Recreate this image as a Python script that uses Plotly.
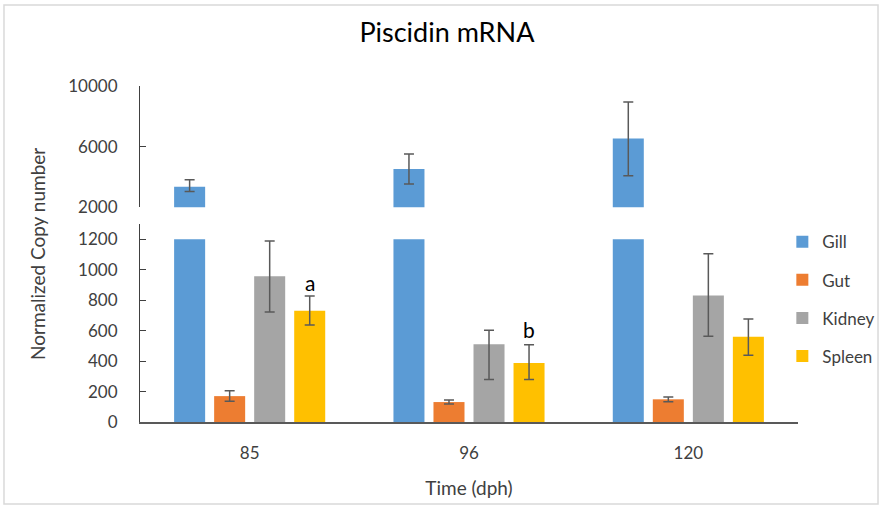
import plotly.graph_objects as go

# ---- data ----
categories = ["85", "96", "120"]
series_names = ["Gill", "Gut", "Kidney", "Spleen"]
gill = [3350, 4520, 6540]
gill_err_plus = [460, 1000, 2410]
gill_err_minus = [300, 990, 2460]
gut = [170, 131, 149]
gut_err_plus = [35, 13, 16]
gut_err_minus = [34, 13, 16]
kidney = [957, 510, 831]
kidney_err_plus = [232, 93, 275]
kidney_err_minus = [234, 230, 267]
spleen = [730, 387, 560]
spleen_err_plus = [98, 120, 117]
spleen_err_minus = [92, 107, 121]
sig_labels = ["a", "b"]
sig_label_cat_index = [0, 1]
sig_label_y = [915, 605]
lower_cap = 1200
upper_ticks = [2000, 6000, 10000]
lower_ticks = [0, 200, 400, 600, 800, 1000, 1200]

colors = ["#5B9BD5", "#ED7D31", "#A5A5A5", "#FFC000"]
values = [gill, gut, kidney, spleen]
eplus = [gill_err_plus, gut_err_plus, kidney_err_plus, spleen_err_plus]
eminus = [gill_err_minus, gut_err_minus, kidney_err_minus, spleen_err_minus]

FONT = "Lato"
TXT = "#404040"
ERR = "#595959"

fig = go.Figure()

for i, name in enumerate(series_names):
    vals = values[i]
    lower_vals = [min(v, lower_cap) for v in vals]
    fig.add_trace(go.Bar(
        x=categories, y=lower_vals, name=name, marker_color=colors[i],
        marker_line_width=0, xaxis="x", yaxis="y",
        legendgroup=name,
        error_y=dict(type="data", symmetric=False, array=eplus[i], arrayminus=eminus[i],
                     color=ERR, thickness=1.5, width=5, visible=(i != 0)),
    ))
for i, name in enumerate(series_names):
    vals = values[i]
    fig.add_trace(go.Bar(
        x=categories, y=vals, name=name, marker_color=colors[i],
        marker_line_width=0, xaxis="x2", yaxis="y2", showlegend=False,
        legendgroup=name,
        error_y=dict(type="data", symmetric=False, array=eplus[i], arrayminus=eminus[i],
                     color=ERR, thickness=1.5, width=5, visible=(i == 0)),
    ))

annotations = []
for lbl, ci, yv in zip(sig_labels, sig_label_cat_index, sig_label_y):
    annotations.append(dict(x=ci, y=yv, xref="x", yref="y", text=lbl, showarrow=False,
                            xshift=60, font=dict(family=FONT, size=21, color="#000000")))

fig.update_layout(
    width=885, height=505,
    margin=dict(l=140, r=87, t=86, b=83, autoexpand=False),
    paper_bgcolor="white", plot_bgcolor="white",
    font=dict(family=FONT, size=17, color=TXT),
    title=dict(text="Piscidin mRNA", x=0.505, xanchor="center", y=0.935, yanchor="middle",
               font=dict(family=FONT, size=27, color="#000000")),
    barmode="group", bargap=0.27, bargroupgap=0.225,
    xaxis=dict(type="category", categoryorder="array", categoryarray=categories,
               range=[-0.5, 2.5], domain=[0, 1], anchor="y", showline=True, linecolor="#595959",
               linewidth=1.5, ticks="", showgrid=False, tickfont=dict(size=17, color=TXT),
               ticklabelstandoff=15,
               title=dict(text="Time (dph)", font=dict(size=19, color=TXT), standoff=20)),
    xaxis2=dict(type="category", categoryorder="array", categoryarray=categories,
                range=[-0.5, 2.5], domain=[0, 1], anchor="y2", visible=False),
    yaxis=dict(domain=[0, 0.589], range=[0, 1300], tickvals=lower_ticks,
               ticktext=[str(t) for t in lower_ticks], showline=True,
               linecolor="#404040", linewidth=1.2, ticks="inside", ticklen=6, tickcolor="#404040",
               showgrid=False, zeroline=False, tickfont=dict(size=17, color=TXT),
               ticklabelstandoff=18),
    yaxis2=dict(domain=[0.639, 1], range=[2000, 10000], tickvals=upper_ticks,
                ticktext=[str(t) for t in upper_ticks], showline=True,
                linecolor="#404040", linewidth=1.2, ticks="inside", ticklen=6, tickcolor="#404040",
                showgrid=False, zeroline=False, anchor="x2", tickfont=dict(size=17, color=TXT),
                ticklabelstandoff=18),
    legend=dict(xref="container", yref="container", x=0.884, xanchor="left",
                y=0.556, yanchor="top", traceorder="grouped",
                tracegroupgap=13, font=dict(size=17, color=TXT), bgcolor="rgba(0,0,0,0)",
                itemwidth=30),
    annotations=annotations + [
        dict(text="Normalized Copy number", xref="paper", yref="paper", x=-0.1565, y=0.5,
             textangle=-90, showarrow=False, xanchor="center", yanchor="middle",
             font=dict(family=FONT, size=19, color=TXT)),
    ],
    shapes=[dict(type="rect", xref="paper", yref="paper", x0=-0.2067, x1=1.1216,
                 y0=-0.244, y1=1.241, line=dict(color="#D9D9D9", width=1.5), layer="below")],
)

fig.write_html("out.html")
